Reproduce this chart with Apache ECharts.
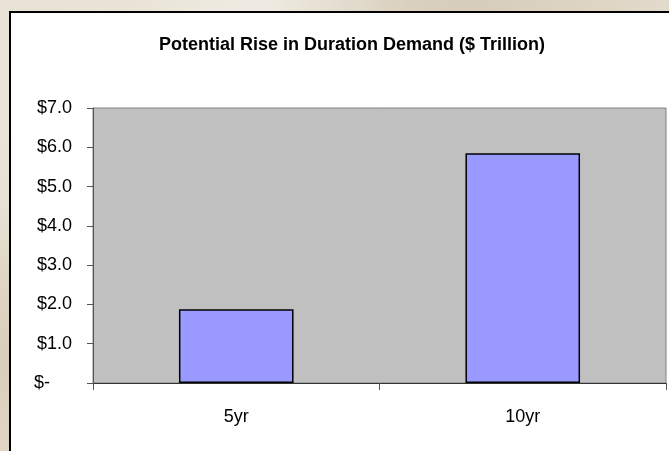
<!DOCTYPE html>
<html>
<head>
<meta charset="utf-8">
<script src="https://cdn.jsdelivr.net/npm/echarts@6/dist/echarts.min.js"></script>
<style>
  html, body { margin: 0; padding: 0; }
  body {
    width: 669px; height: 451px; overflow: hidden; position: relative;
    background-color: #e4dccd;
    background-image:
      radial-gradient(ellipse at 15% 20%, rgba(255,255,255,0.35), rgba(255,255,255,0) 40%),
      radial-gradient(ellipse at 70% 5%, rgba(190,175,150,0.35), rgba(190,175,150,0) 35%),
      radial-gradient(ellipse at 3% 80%, rgba(200,185,160,0.4), rgba(200,185,160,0) 30%),
      radial-gradient(ellipse at 40% 2%, rgba(255,255,255,0.4), rgba(255,255,255,0) 25%);
  }
  #frame {
    position: absolute; left: 9px; top: 11px; width: 700px; height: 500px;
    background: #fff; border: 2px solid #000;
  }
  #chart { position: absolute; left: 0; top: 0; width: 669px; height: 451px; }
</style>
</head>
<body>
<div id="frame"></div>
<div id="chart"></div>
<script>
// data
const categories = ["5yr", "10yr"];
const demand = [1.88, 5.85];
const yTicks = { min: 0, max: 7, step: 1 };

const chart = echarts.init(document.getElementById("chart"));

chart.setOption({
  animation: false,
  backgroundColor: "transparent",
  textStyle: { fontFamily: "Liberation Sans, Arial, sans-serif", color: "#000" },
  title: {
    text: "Potential Rise in Duration Demand ($ Trillion)",
    left: 347,
    textAlign: "center",
    top: 31,
    textStyle: { fontSize: 18, fontWeight: "bold", color: "#000" }
  },
  grid: {
    left: 93, top: 108, right: 3, bottom: 68,
    show: true,
    backgroundColor: "#c0c0c0",
    borderColor: "#808080",
    borderWidth: 1
  },
  xAxis: {
    type: "category",
    data: categories,
    axisLine: { show: true, lineStyle: { color: "#333", width: 1.2 } },
    axisTick: { show: true, length: 7, lineStyle: { color: "#555" } },
    axisLabel: { fontSize: 18, color: "#000", margin: 25 }
  },
  yAxis: {
    type: "value",
    min: yTicks.min,
    max: yTicks.max,
    interval: yTicks.step,
    axisLine: { show: true, lineStyle: { color: "#555" } },
    axisTick: { show: true, length: 6, lineStyle: { color: "#555" } },
    splitLine: { show: false },
    axisLabel: {
      fontSize: 18,
      color: "#000",
      margin: 21,
      formatter: function (v) {
        if (v === 0) return "{z|$-}";
        return "$" + v.toFixed(1);
      },
      rich: {
        z: { fontSize: 18, color: "#000", padding: [0, 22, 0, 0] }
      }
    }
  },
  series: [
    {
      type: "bar",
      data: demand,
      barWidth: "40%",
      itemStyle: { color: "#9999ff", borderColor: "#000", borderWidth: 1.5 }
    }
  ]
});
</script>
</body>
</html>
